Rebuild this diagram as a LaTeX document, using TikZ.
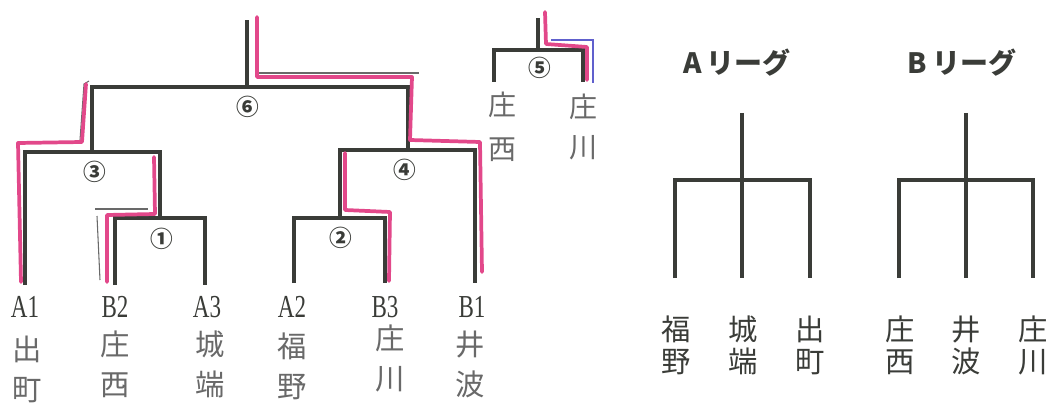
\documentclass[tikz,border=0pt]{standalone}
\usepackage{graphicx}
\usepackage{fontspec}
\setmainfont{Liberation Serif}
\newfontfamily\jp{Noto Sans CJK JP}
\definecolor{ink}{RGB}{58,60,56}
\definecolor{marker}{RGB}{226,72,138}
\definecolor{pen}{RGB}{96,96,205}
\definecolor{pencil}{RGB}{105,105,105}
\newcommand{\narrow}[1]{\scalebox{0.72}[1]{#1}}
\tikzset{
  bar/.style={draw=ink, line width=3pt},
  hilite/.style={draw=marker, line width=2.8pt, line join=round, line cap=round},
  seed/.style={font=\fontsize{24}{24}\selectfont, text=ink, inner sep=0pt},
  hand/.style={font=\jp\fontsize{22}{30}\selectfont, text=pencil, align=center, inner sep=0pt},
  team/.style={font=\jp\fontsize{22}{24}\selectfont, text=ink, align=center, inner sep=0pt},
  game/.style={font=\jp\bfseries\fontsize{17}{17}\selectfont, text=ink, inner sep=0pt},
  league/.style={font=\jp\bfseries\fontsize{21}{21}\selectfont, text=ink, inner sep=0pt}
}

\begin{document}
\begin{tikzpicture}[x=0.75pt,y=0.75pt,yscale=-1,xscale=1]
    \useasboundingbox (0,0) rectangle (1050,403);

    % Tournament: junctions
    \coordinate (top6) at (247,20);
    \coordinate (j6) at (247,87);
    \coordinate (j3) at (92,152);
    \coordinate (j4) at (408,150);
    \coordinate (j1) at (160,218);
    \coordinate (j2) at (340,218);
    % Tournament: leaves
    \coordinate (a1) at (25,285);
    \coordinate (b2) at (115,285);
    \coordinate (a3) at (205,285);
    \coordinate (a2) at (294,283);
    \coordinate (b3) at (385,283);
    \coordinate (b1) at (475,283);

    % Tournament lines
    \draw [bar] (b2) |- (j1) -| (a3);
    \draw [bar] (a2) |- (j2) -| (b3);
    \draw [bar] (a1) |- (j3) -| (j1);
    \draw [bar] (j2) |- (j4) -| (b1);
    \draw [bar] (j3) |- (j6) -| (j4);
    \draw [bar] (j6) -- (top6);

    % Pencil traces
    \draw [pencil, line width=0.8pt] (257,73) -- (419,73);
    \draw [pencil, line width=0.8pt] (80,140) -- (84,84) -- (89,81);
    \draw [pencil, line width=0.8pt] (95,209) -- (148,209);
    \draw [pencil, line width=0.8pt] (97,216) -- (100,280);

    % Winner marks
    \draw [hilite] (21,282) -- (18,143) -- (82,142) -- (86,84);
    \draw [hilite] (107,282) -- (107,215) -- (155,214) -- (154,157);
    \draw [hilite] (389,281) -- (390,212) -- (345,210) -- (345,153);
    \draw [hilite] (482,272) -- (480,142) -- (410,140) -- (412,77) -- (257,77) -- (257,17);

    % Game numbers
    \node (g6) [game] at (248,107) {⑥};
    \node (g3) [game] at (95,172) {③};
    \node (g4) [game] at (405,170) {④};
    \node (g1) [game] at (162,239) {①};
    \node (g2) [game] at (341,238) {②};

    % Seeds
    \node (sA1) [seed] at (25,307) {\narrow{A1}};
    \node (sB2) [seed] at (115,307) {\narrow{B2}};
    \node (sA3) [seed] at (207,307) {\narrow{A3}};
    \node (sA2) [seed] at (292,307) {\narrow{A2}};
    \node (sB3) [seed] at (385,307) {\narrow{B3}};
    \node (sB1) [seed] at (472,307) {\narrow{B1}};

    % Handwritten names
    \node (hA1) [hand] at (27,369) {出\\町};
    \node (hB2) [hand] at (115,364) {庄\\西};
    \node (hA3) [hand] at (210,364) {城\\端};
    \node (hA2) [hand] at (292,366) {福\\野};
    \node (hB3) [hand] at (390,358) {庄\\川};
    \node (hB1) [hand] at (470,364) {井\\波};

    % Game 5
    \coordinate (top5) at (538,18);
    \coordinate (j5) at (538,50);
    \coordinate (l5) at (494,82);
    \coordinate (r5) at (583,82);
    \draw [bar] (l5) |- (j5) -| (r5);
    \draw [bar] (j5) -- (top5);
    \draw [pen, line width=0.9pt] (593,83) -- (593,40) -- (551,40);
    \draw [hilite] (587,80) -- (587,47) -- (546,44) -- (545,12);
    \node (g5) [game] at (540,68) {⑤};
    \node (h5l) [hand, font=\jp\fontsize{21}{33}\selectfont] at (502,127) {庄\\西};
    \node (h5r) [hand, font=\jp\fontsize{21}{30}\selectfont] at (583,127) {庄\\川};

    % A league
    \node (la) [league] at (737,63) {A\,リーグ};
    \coordinate (topA) at (742,113);
    \coordinate (jA) at (742,180);
    \coordinate (fA) at (675,278);
    \coordinate (mA) at (742,278);
    \coordinate (dA) at (810,278);
    \draw [bar] (fA) |- (jA) -| (dA);
    \draw [bar] (topA) -- (mA);
    \node (tfA) [team] at (676,345) {福\\野};
    \node (tmA) [team] at (743,345) {城\\端};
    \node (tdA) [team] at (810,345) {出\\町};

    % B league
    \node (lb) [league] at (962,63) {B\,リーグ};
    \coordinate (topB) at (966,113);
    \coordinate (jB) at (966,180);
    \coordinate (fB) at (899,278);
    \coordinate (mB) at (966,278);
    \coordinate (dB) at (1033,278);
    \draw [bar] (fB) |- (jB) -| (dB);
    \draw [bar] (topB) -- (mB);
    \node (tfB) [team] at (900,345) {庄\\西};
    \node (tmB) [team] at (966,345) {井\\波};
    \node (tdB) [team] at (1033,345) {庄\\川};

\end{tikzpicture}
\end{document}
